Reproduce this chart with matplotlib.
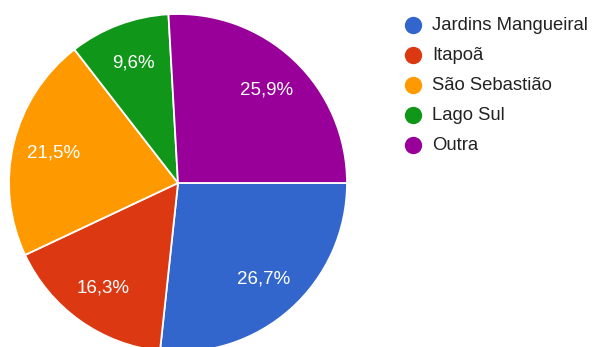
import matplotlib
matplotlib.use("Agg")
import matplotlib.pyplot as plt
from matplotlib.lines import Line2D

# Survey answers: neighbourhood of residence (percent of responses)
categories = ["Jardins Mangueiral", "Itapoã", "São Sebastião", "Lago Sul", "Outra"]
shares = [26.7, 16.3, 21.5, 9.6, 25.9]
colors = ["#3366CC", "#DC3912", "#FF9900", "#109618", "#990099"]

W, H = 592, 347
fig = plt.figure(figsize=(W / 100, H / 100), dpi=100)
plt.rcParams["font.family"] = ["Liberation Sans", "DejaVu Sans"]

# Axes in pixel units so the pie can sit partly below the bottom edge
ax = fig.add_axes([0, 0, 1, 1])
cx, cy, r = 178, H - 183, 169

def pct_label(p):
    return f"{p:.1f}%".replace(".", ",")

wedges, texts, autotexts = ax.pie(
    shares,
    colors=colors,
    startangle=0,
    counterclock=False,
    center=(cx, cy),
    radius=r,
    autopct=pct_label,
    pctdistance=0.76,
    wedgeprops=dict(edgecolor="white", linewidth=1.3),
    textprops=dict(color="white", fontsize=13.5),
)
ax.set_xlim(0, W)
ax.set_ylim(0, H)
ax.set_aspect("equal", adjustable="datalim")
ax.axis("off")

# Legend column on the right
x_dot, x_txt = 413, 432
y0, step = 25, 30
for i, (name, col) in enumerate(zip(categories, colors)):
    y = H - (y0 + i * step)
    fig.add_artist(Line2D([x_dot / W], [y / H], marker="o", markersize=12.5,
                          color=col, markeredgewidth=0, linestyle="none",
                          transform=fig.transFigure))
    fig.text(x_txt / W, y / H, name, fontsize=13.3, color="#222222",
             va="center", ha="left")

fig.savefig("out.png", dpi=100, facecolor="white")
